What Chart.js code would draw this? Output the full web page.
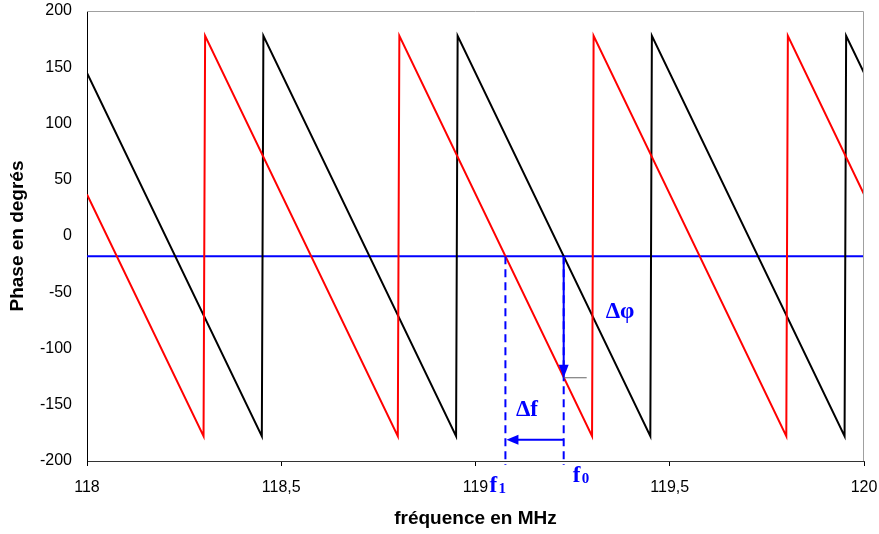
<!DOCTYPE html>
<html>
<head>
<meta charset="utf-8">
<script src="https://cdn.jsdelivr.net/npm/chart.js@4"></script>
<style>
  html, body { margin: 0; padding: 0; background: #fff; }
  #wrap { width: 879px; height: 534px; }
</style>
</head>
<body>
<div id="wrap"><canvas id="phaseChart" width="879" height="534"></canvas></div>
<script>
// phase (deg) vs frequency (MHz)
const redFreq = [118, 118.300, 118.304, 118.800, 118.804, 119.300, 119.304, 119.800, 119.804, 120];
const redPhase = [37, -178, 178, -178, 178, -178, 178, -178, 178, 37];
const blackFreq = [118, 118.450, 118.454, 118.950, 118.954, 119.450, 119.454, 119.950, 119.954, 120];
const blackPhase = [145, -178, 178, -178, 178, -178, 178, -178, 178, 145];
const blueFreq = [118, 120];
const bluePhase = [-18, -18];
const xTickLabels = ["118", "118,5", "119", "119,5", "120"];

// construction marks
const f1 = 119.077;
const f0 = 119.227;
const phiAtF0 = -126;
const deltaFLevel = -181;

const toPoints = (xs, ys) => xs.map((x, i) => ({ x: x, y: ys[i] }));

const BLUE = "#0000ff";

const annotPlugin = {
    id: "annot",
    afterDatasetsDraw(chart) {
        const ctx = chart.ctx;
        const xs = chart.scales.x;
        const ys = chart.scales.y;
        const area = chart.chartArea;
        const px1 = xs.getPixelForValue(f1);
        const px0 = xs.getPixelForValue(f0);
        const pyBlue = ys.getPixelForValue(bluePhase[0]);
        const pyPhi = ys.getPixelForValue(phiAtF0);
        const pyDf = ys.getPixelForValue(deltaFLevel);

        ctx.save();
        // top / right frame in gray
        ctx.strokeStyle = "#a0a0a0";
        ctx.lineWidth = 1;
        ctx.beginPath();
        ctx.moveTo(area.left, area.top + 0.5);
        ctx.lineTo(area.right - 0.5, area.top + 0.5);
        ctx.lineTo(area.right - 0.5, area.bottom);
        ctx.stroke();

        // dashed verticals
        ctx.strokeStyle = BLUE;
        ctx.lineWidth = 2;
        ctx.setLineDash([8, 5]);
        ctx.beginPath();
        ctx.moveTo(px1, pyBlue);
        ctx.lineTo(px1, area.bottom + 4);
        ctx.moveTo(px0, pyBlue);
        ctx.lineTo(px0, area.bottom + 4);
        ctx.stroke();
        ctx.setLineDash([]);

        // small gray tick at phase of f0
        ctx.strokeStyle = "#666";
        ctx.lineWidth = 1;
        ctx.beginPath();
        ctx.moveTo(px0, pyPhi);
        ctx.lineTo(px0 + 23, pyPhi);
        ctx.stroke();

        // delta phi arrow (down)
        ctx.strokeStyle = BLUE;
        ctx.fillStyle = BLUE;
        ctx.lineWidth = 2;
        ctx.beginPath();
        ctx.moveTo(px0, pyBlue);
        ctx.lineTo(px0, pyPhi - 10);
        ctx.stroke();
        ctx.beginPath();
        ctx.moveTo(px0, pyPhi);
        ctx.lineTo(px0 - 5, pyPhi - 13);
        ctx.lineTo(px0 + 5, pyPhi - 13);
        ctx.closePath();
        ctx.fill();

        // delta f arrow (left)
        ctx.beginPath();
        ctx.moveTo(px0, pyDf);
        ctx.lineTo(px1 + 10, pyDf);
        ctx.stroke();
        ctx.beginPath();
        ctx.moveTo(px1 + 1, pyDf);
        ctx.lineTo(px1 + 13, pyDf - 5);
        ctx.lineTo(px1 + 13, pyDf + 5);
        ctx.closePath();
        ctx.fill();

        // labels
        ctx.textBaseline = "middle";
        ctx.textAlign = "left";
        ctx.font = "bold 23px 'Liberation Serif', 'DejaVu Serif', serif";
        ctx.fillText("\u0394\u03c6", xs.getPixelForValue(119.335), ys.getPixelForValue(-68));
        ctx.fillText("\u0394f", xs.getPixelForValue(119.104), ys.getPixelForValue(-155));

        ctx.font = "bold 23px 'Liberation Serif', serif";
        ctx.fillText("f", px1 - 16, area.bottom + 25);
        ctx.fillText("f", px0 + 9, area.bottom + 15);
        ctx.font = "bold 15px 'Liberation Serif', serif";
        ctx.fillText("1", px1 - 7, area.bottom + 28);
        ctx.fillText("0", px0 + 18, area.bottom + 18);
        ctx.restore();
    }
};

const ctx = document.getElementById("phaseChart").getContext("2d");
new Chart(ctx, {
    type: "scatter",
    data: {
        datasets: [
            {
                data: toPoints(redFreq, redPhase),
                showLine: true,
                borderColor: "#ff0000",
                borderWidth: 2,
                pointRadius: 0,
                tension: 0
            },
            {
                data: toPoints(blackFreq, blackPhase),
                showLine: true,
                borderColor: "#000000",
                borderWidth: 2,
                pointRadius: 0,
                tension: 0
            },
            {
                data: toPoints(blueFreq, bluePhase),
                showLine: true,
                borderColor: BLUE,
                borderWidth: 2,
                pointRadius: 0,
                tension: 0
            }
        ]
    },
    options: {
        responsive: false,
        animation: false,
        layout: { padding: { top: 11, right: 15, left: 6, bottom: 0 } },
        plugins: {
            legend: { display: false },
            tooltip: { enabled: false }
        },
        scales: {
            x: {
                type: "linear",
                min: 118,
                max: 120,
                afterFit: function (scale) {
                    scale.height = 73;
                    scale.paddingLeft = 0;
                    scale.paddingRight = 0;
                },
                afterBuildTicks: function (scale) {
                    scale.ticks = xTickLabels.map((t, i) => ({ value: 118 + i * 0.5 }));
                },
                ticks: {
                    autoSkip: false,
                    maxRotation: 0,
                    padding: 12,
                    color: "#000",
                    font: { family: "'Liberation Sans', Arial, sans-serif", size: 16 },
                    callback: function (value, index) { return xTickLabels[index]; }
                },
                grid: { drawOnChartArea: false, drawTicks: true, tickLength: 5, color: "#000" },
                border: { color: "#333", width: 1 },
                title: {
                    display: true,
                    text: "fréquence en MHz",
                    color: "#000",
                    padding: { top: 4, bottom: 4 },
                    font: { family: "'Liberation Sans', Arial, sans-serif", size: 19, weight: "bold" }
                }
            },
            y: {
                min: -200,
                max: 200,
                afterFit: function (scale) {
                    scale.width = 81;
                    scale.paddingTop = 0;
                    scale.paddingBottom = 0;
                },
                ticks: {
                    stepSize: 50,
                    padding: 15,
                    color: "#000",
                    font: { family: "'Liberation Sans', Arial, sans-serif", size: 16 }
                },
                grid: { drawOnChartArea: false, drawTicks: false },
                border: { color: "#000", width: 1 },
                title: {
                    display: true,
                    text: "Phase en degrés",
                    color: "#000",
                    padding: { top: 0, bottom: 0 },
                    font: { family: "'Liberation Sans', Arial, sans-serif", size: 19, weight: "bold" }
                }
            }
        }
    },
    plugins: [annotPlugin]
});
</script>
</body>
</html>
